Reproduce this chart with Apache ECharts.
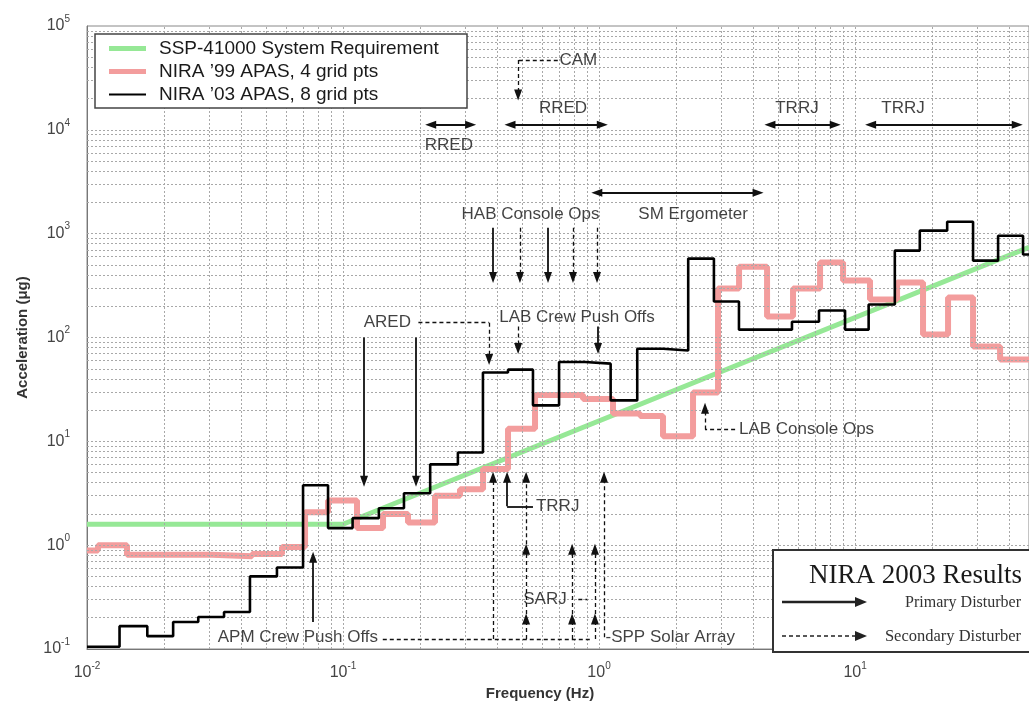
<!DOCTYPE html>
<html><head><meta charset="utf-8">
<script src="https://cdn.jsdelivr.net/npm/echarts@6/dist/echarts.min.js"></script>
<style>html,body{margin:0;padding:0;background:#fff}#c{width:1029px;height:706px}</style>
</head><body><div id="c"></div>
<script>
// ---------- data ----------
const X_MIN = 0.01, X_MAX = 47.8, Y_MIN = 0.1, Y_MAX = 100000;

// SSP-41000 requirement
const reqFreq   = [0.01, 0.1, 47.8];
const reqValues = [1.59, 1.59, 740];

// NIRA '99 APAS (band start frequencies and band levels, micro-g)
const nira99Edges  = [0.01, 0.01104, 0.01433, 0.03079, 0.04411, 0.05777, 0.07107, 0.08738, 0.1134, 0.1433, 0.1794, 0.2287, 0.2864, 0.3523, 0.4411, 0.5623, 0.866, 1.134, 1.446, 1.778, 2.329, 2.916, 3.523, 4.532, 5.725, 7.30, 8.978, 11.44, 14.59, 18.43, 23.08, 28.90, 36.85];
const nira99Values = [0.89, 1.0, 0.81, 0.78, 0.82, 0.96, 2.07, 2.7, 1.46, 2.0, 1.65, 3.0, 3.45, 5.4, 13.2, 28, 25.5, 18.5, 17.5, 11.2, 29.6, 296, 480, 159, 296, 527, 354, 232, 338, 107, 243, 82, 61.5];

// NIRA '03 APAS
const nira03Edges  = [0.01, 0.0134, 0.0172, 0.0217, 0.0272, 0.0343, 0.0433, 0.0552, 0.0698, 0.0874, 0.109, 0.138, 0.173, 0.219, 0.281, 0.352, 0.441, 0.552, 0.698, 0.882, 1.11, 1.41, 1.78, 2.23, 2.81, 3.52, 4.45, 5.67, 7.23, 9.14, 11.3, 14.3, 17.9, 22.9, 28.9, 36.2, 45.3];
const nira03Values = [0.105, 0.166, 0.133, 0.182, 0.203, 0.227, 0.50, 0.61, 3.78, 1.46, 1.82, 2.27, 3.16, 6.0, 7.8, 46, 49, 22.2, 58, 56, 24.8, 78, 75, 575, 222, 119, 119, 142, 182, 119, 208, 687, 1069, 1304, 550, 956, 630];

const seriesNames = ['SSP-41000 System Requirement', 'NIRA \u201999 APAS, 4 grid pts', 'NIRA \u201903 APAS, 8 grid pts'];
const xTickValues = [0.01, 0.1, 1, 10];
const yTickValues = [0.1, 1, 10, 100, 1000, 10000, 100000];

// annotation arrows: [fromF, fromV, toF, toV, 's'|'d', heads 0/1/2]
const annotLines = [
  [0.22, 11170, 0.315, 11170, 's', 2],
  [0.449, 11170, 1.03, 11170, 's', 2],
  [4.65, 11170, 8.37, 11170, 's', 2],
  [11.5, 11170, 43, 11170, 's', 2],
  [0.98, 2480, 4.18, 2480, 's', 2],
  [0.69, 47100, 0.483, 47100, 'd', 0],
  [0.483, 47100, 0.483, 21700, 'd', 1],
  [0.3855, 1142, 0.3855, 378, 's', 1],
  [0.491, 1142, 0.491, 378, 'd', 1],
  [0.632, 1142, 0.632, 378, 's', 1],
  [0.791, 1142, 0.791, 378, 'd', 1],
  [0.982, 1142, 0.982, 378, 'd', 1],
  [0.483, 127.6, 0.483, 78.4, 'd', 1],
  [0.991, 127.6, 0.991, 78.4, 's', 1],
  [0.197, 139, 0.372, 139, 'd', 0],
  [0.372, 139, 0.372, 61.4, 'd', 1],
  [0.1208, 100, 0.1208, 4.12, 's', 1],
  [0.1928, 100, 0.1928, 4.12, 's', 1],
  [0.552, 2.37, 0.4373, 2.37, 's', 0],
  [0.4373, 2.37, 0.4373, 4.5, 's', 1],
  [0.3855, 0.125, 0.3855, 4.5, 'd', 1],
  [0.519, 0.125, 0.519, 0.194, 'd', 1],
  [0.519, 0.217, 0.519, 0.915, 'd', 1],
  [0.519, 1.02, 0.519, 4.5, 'd', 1],
  [0.785, 0.125, 0.785, 0.194, 'd', 1],
  [0.785, 0.217, 0.785, 0.915, 'd', 1],
  [0.964, 0.125, 0.964, 0.194, 'd', 1],
  [0.964, 0.217, 0.964, 0.915, 'd', 1],
  [1.046, 0.13, 1.046, 4.5, 'd', 1],
  [0.143, 0.125, 0.93, 0.125, 'd', 0],
  [0.83, 0.303, 0.9, 0.303, 'd', 0],
  [0.0764, 0.182, 0.0764, 0.767, 's', 1],
  [3.40, 13.0, 2.594, 13.0, 'd', 0],
  [2.594, 13.0, 2.594, 20.8, 'd', 1]
];
// annotation texts: [text, f, v, align]
const annotTexts = [
  ['CAM', 0.70, 47100, 'left'],
  ['RRED', 0.259, 7020, 'center'],
  ['RRED', 0.723, 16290, 'center'],
  ['TRRJ', 5.93, 16290, 'center'],
  ['TRRJ', 15.4, 16290, 'center'],
  ['SM Ergometer', 2.33, 1523, 'center'],
  ['HAB Console Ops', 0.54, 1523, 'center'],
  ['LAB Crew Push Offs', 0.82, 156, 'center'],
  ['ARED', 0.149, 139, 'center'],
  ['TRRJ', 0.567, 2.37, 'left'],
  ['SARJ', 0.615, 0.303, 'center'],
  ['-SPP Solar Array', 1.06, 0.13, 'left'],
  ['APM Crew Push Offs', 0.137, 0.13, 'right'],
  ['LAB Console Ops', 3.52, 13.2, 'left']
];

// ---------- build ----------
function stepData(edges, values, xEnd) {
  const d = edges.map((e, i) => [e, values[i]]);
  d.push([xEnd, values[values.length - 1]]);
  return d;
}
const vGrid = [], hGrid = [];
for (let d = -2; d <= 1; d++) for (let k = 1; k <= 9; k++) {
  const f = k * Math.pow(10, d);
  if (f > X_MIN * 1.001 && f < X_MAX) vGrid.push({ xAxis: f });
}
for (let d = -1; d <= 4; d++) for (let k = 1; k <= 9; k++) {
  const v = k * Math.pow(10, d);
  if (v > Y_MIN * 1.001 && v < Y_MAX * 0.999) hGrid.push({ yAxis: v });
}
const arrowData = annotLines.map(a => {
  const ls = a[4] === 'd' ? { type: [4, 3], width: 1.3, color: '#111' } : { type: 'solid', width: 1.8, color: '#111' };
  return [
    { coord: [a[0], a[1]], symbol: a[5] === 2 ? 'triangle' : 'none', lineStyle: ls },
    { coord: [a[2], a[3]], symbol: a[5] >= 1 ? 'triangle' : 'none' }
  ];
});
const textData = annotTexts.map(t => ({
  value: [t[1], t[2]],
  label: { show: true, formatter: t[0], position: 'inside', align: t[3], verticalAlign: 'middle' }
}));
const supFmt = v => '{b|10}{s|' + Math.round(Math.log10(v)) + '}';
const labelRich = {
  b: { fontSize: 16, fontFamily: 'Liberation Sans', color: '#444', lineHeight: 24 },
  s: { fontSize: 10, fontFamily: 'Liberation Sans', color: '#444', lineHeight: 10, verticalAlign: 'top' }
};
const legendIcons = ['path://M0,0H37V5H0Z', 'path://M0,0H37V5H0Z', 'path://M0,0H37V2H0Z'];

const chart = echarts.init(document.getElementById('c'));
chart.setOption({
  animation: false,
  backgroundColor: '#fff',
  grid: { left: 87, right: 0, top: 26, bottom: 56, show: true, borderColor: '#888', borderWidth: 1 },
  legend: {
    data: seriesNames.map((n, i) => ({ name: n, icon: legendIcons[i] })),
    orient: 'vertical', left: 95, top: 34,
    itemWidth: 37, itemHeight: 14, itemGap: 2,
    padding: [4, 6, 3, 14],
    backgroundColor: '#fff', borderColor: '#444', borderWidth: 1.5,
    textStyle: { fontSize: 19, fontFamily: 'Liberation Sans', color: '#1a1a1a', padding: [0, 0, 0, 8], lineHeight: 21, width: 302 },
    z: 20
  },
  xAxis: {
    type: 'log', logBase: 10, min: X_MIN, max: X_MAX,
    axisLine: { show: true, lineStyle: { color: '#777' } },
    axisTick: { show: false }, splitLine: { show: false },
    axisLabel: { formatter: supFmt, rich: labelRich, margin: 12, showMaxLabel: false },
    name: 'Frequency (Hz)', nameLocation: 'middle', nameGap: 37,
    nameTextStyle: { fontSize: 15, fontWeight: 'bold', fontFamily: 'Liberation Sans', color: '#333', padding: [0, 36, 0, 0] }
  },
  yAxis: {
    type: 'log', logBase: 10, min: Y_MIN, max: Y_MAX,
    axisLine: { show: true, lineStyle: { color: '#777' } },
    axisTick: { show: false }, splitLine: { show: false },
    axisLabel: { formatter: supFmt, rich: labelRich, margin: 17 },
    name: 'Acceleration (\u03bcg)', nameLocation: 'middle', nameGap: 57,
    nameTextStyle: { fontSize: 15, fontWeight: 'bold', fontFamily: 'Liberation Sans', color: '#333' }
  },
  series: [
    {
      name: 'gridlines', type: 'line', data: [], z: 1, silent: true,
      markLine: {
        silent: true, symbol: ['none', 'none'], label: { show: false },
        lineStyle: { color: '#a8a8a8', width: 1, type: [2, 2] },
        data: vGrid.concat(hGrid), animation: false
      }
    },
    {
      name: seriesNames[0], type: 'line', data: reqFreq.map((f, i) => [f, reqValues[i]]),
      showSymbol: false, symbol: 'none', z: 3,
      lineStyle: { color: '#96e896', width: 5 }, itemStyle: { color: '#96e896' }
    },
    {
      name: seriesNames[1], type: 'line', step: 'end', data: stepData(nira99Edges, nira99Values, X_MAX),
      showSymbol: false, symbol: 'none', z: 4,
      lineStyle: { color: '#f39d9d', width: 6 }, itemStyle: { color: '#f39d9d' }
    },
    {
      name: seriesNames[2], type: 'line', step: 'end', data: stepData(nira03Edges, nira03Values, X_MAX),
      showSymbol: false, symbol: 'none', z: 5,
      lineStyle: { color: '#000', width: 2.6 }, itemStyle: { color: '#000' }
    },
    {
      name: 'arrows', type: 'line', data: [], z: 6, silent: true,
      markLine: {
        silent: true, symbolSize: [8, 11], label: { show: false },
        data: arrowData, animation: false
      }
    },
    {
      name: 'notes', type: 'scatter', data: textData, symbolSize: 0, z: 7, silent: true,
      label: { show: true, fontSize: 17, fontFamily: 'Liberation Sans', color: '#111' }
    }
  ],
  graphic: [
    { type: 'rect', z: 30, shape: { x: 773, y: 550, width: 270, height: 102 }, style: { fill: '#fff', stroke: '#333', lineWidth: 2 } },
    { type: 'text', z: 31, x: 1022, y: 576, style: { text: 'NIRA 2003 Results', font: '27px "Liberation Serif"', fill: '#1a1a1a', align: 'right', verticalAlign: 'middle' } },
    { type: 'line', z: 31, shape: { x1: 782, y1: 602, x2: 857, y2: 602 }, style: { stroke: '#222', lineWidth: 2.5 } },
    { type: 'polygon', z: 31, shape: { points: [[867, 602], [855, 597], [855, 607]] }, style: { fill: '#222' } },
    { type: 'text', z: 31, x: 1021, y: 603, style: { text: 'Primary Disturber', font: '16px "Liberation Serif"', fill: '#333', align: 'right', verticalAlign: 'middle' } },
    { type: 'line', z: 31, shape: { x1: 782, y1: 636, x2: 857, y2: 636 }, style: { stroke: '#222', lineWidth: 1.3, lineDash: [4, 3] } },
    { type: 'polygon', z: 31, shape: { points: [[867, 636], [855, 631], [855, 641]] }, style: { fill: '#222' } },
    { type: 'text', z: 31, x: 1021, y: 637, style: { text: 'Secondary Disturber', font: '16.5px "Liberation Serif"', fill: '#333', align: 'right', verticalAlign: 'middle' } }
  ]
});
</script>
</body></html>
